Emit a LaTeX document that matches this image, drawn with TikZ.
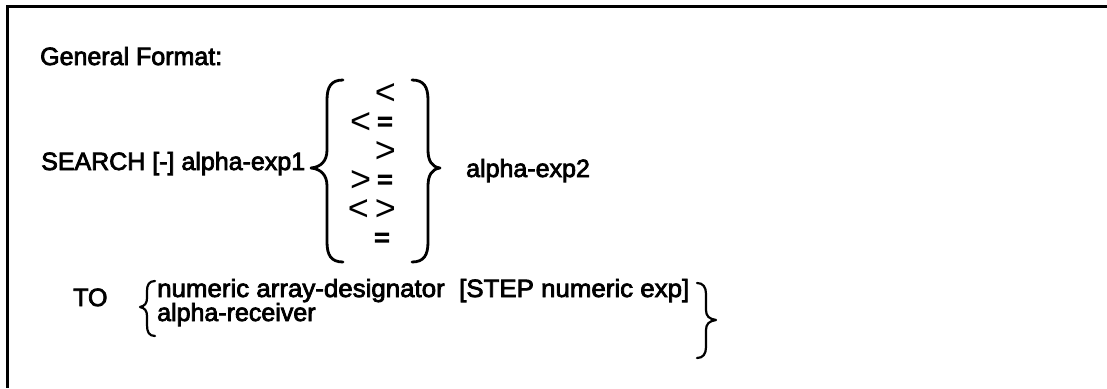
\documentclass[tikz,border=0pt]{standalone}
\usepackage{fontspec}
\setmainfont{Liberation Sans}[FakeBold=3]
\newfontfamily\relfont{Liberation Sans}
\begin{document}
\begin{tikzpicture}[x=1pt,y=-1pt,
  txt/.style={anchor=base west,inner sep=0pt,font=\fontsize{25}{28}\selectfont},
  rel/.style={anchor=base east,inner sep=0pt,text height=20pt,text depth=0pt,
    font=\relfont\fontsize{36}{38}\selectfont},
  frameline/.style={line width=3pt},
  bracestroke/.style={line width=2.8pt,line cap=round,line join=round}]
\useasboundingbox (0,0) rectangle (1107,388);

% equals sign set smaller and heavier than the angle brackets
\newcommand\releq{\raisebox{2.5pt}{\fontsize{27}{28}\selectfont\addfontfeature{FakeBold=4}=}}

% open frame: top rule and left rule
\coordinate (tl) at (7,6);
\coordinate (tr) at (1107,6);
\coordinate (bl) at (7,388);
\draw[frameline] (tr) -- (tl) -- (bl);

\node[txt] (title) at (40,65) {General Format:};

% SEARCH statement
\node[txt] (search) at (41,170) {SEARCH [-] alpha-exp1};
\node[txt] (exp2) at (466,177) {alpha-exp2};

% relational operators
\node[rel] (lt) at (396,104) {<};
\node[rel] (le) at (393,133) {<\,\releq};
\node[rel] (gt) at (396,162) {>};
\node[rel] (ge) at (393,191) {>\,\releq};
\node[rel] (ne) at (396,220) {<\,>};
\node[rel] (eq) at (390,249) {\releq};

% large braces around the operators
\draw[bracestroke] (343,80) .. controls (331,80) and (327,87) .. (327,100)
  -- (327,150) .. controls (327,161) and (321,167) .. (311,168)
  .. controls (321,169) and (327,175) .. (327,186)
  -- (327,242) .. controls (327,255) and (331,262) .. (343,262);
\draw[bracestroke] (412,80) .. controls (424,80) and (428,87) .. (428,100)
  -- (428,150) .. controls (428,161) and (432,167) .. (440,168)
  .. controls (432,169) and (428,175) .. (428,186)
  -- (428,242) .. controls (428,255) and (424,262) .. (412,262);

% TO clause: two tightly set alternatives
\node[txt] (to) at (73,306) {TO};
\node[txt,text depth=3pt,font=\fontsize{25}{28}\selectfont\addfontfeature{FakeStretch=1.035}]
  (arr) at (157,297) {numeric array-designator\ \ [STEP numeric exp]};
\node[txt,text height=18pt] (recv) at (157,321) {alpha-receiver};

\draw[bracestroke,line width=2.2pt] (155,281) .. controls (149,281) and (147,285) .. (147,291)
  -- (147,298) .. controls (147,303) and (145,306) .. (140,307)
  .. controls (145,308) and (147,311) .. (147,316)
  -- (147,325) .. controls (147,332) and (149,336) .. (155,336);
\draw[bracestroke,line width=2.2pt] (697,283) .. controls (703,283) and (706,287) .. (706,294)
  -- (706,310) .. controls (706,316) and (709,319) .. (716,320)
  .. controls (709,321) and (706,324) .. (706,330)
  -- (706,347) .. controls (706,354) and (703,358) .. (697,358);
\end{tikzpicture}
\end{document}
